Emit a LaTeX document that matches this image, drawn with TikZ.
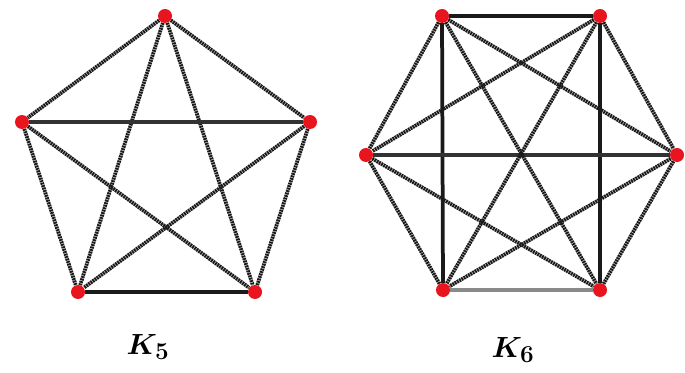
\documentclass[tikz,border=0pt]{standalone}
\usepackage{bm}
\usetikzlibrary{backgrounds}
\definecolor{dotred}{HTML}{E8141E}
\definecolor{ink}{HTML}{1A1A1A}
\definecolor{softink}{HTML}{333333}
\definecolor{paleink}{HTML}{8A8A8A}

\begin{document}
\begin{tikzpicture}[
  x=0.03cm,
  y=0.03cm,
  vertex/.style={
    circle,
    fill=dotred,
    inner sep=0pt,
    minimum size=0.42cm
  },
  edge/.style={
    draw=ink,
    line width=3.2pt,
    dash pattern=on 1.6pt off 0.6pt
  },
  solidedge/.style={draw=ink, line width=3.2pt},
  softedge/.style={draw=softink, line width=3.2pt},
  paleedge/.style={draw=paleink, line width=3.2pt},
  caption/.style={font=\fontsize{30}{34}\selectfont}
]
\useasboundingbox (0,0) rectangle (685,-373);

% K5 vertices
\node[vertex] (ftop) at (165,-16) {};
\node[vertex] (fleft) at (22,-122) {};
\node[vertex] (fright) at (310,-122) {};
\node[vertex] (fbl) at (78,-292) {};
\node[vertex] (fbr) at (255,-292) {};
\node[caption] (fname) at (148,-347) {$\bm{K_5}$};

% K6 vertices
\node[vertex] (stl) at (442,-16) {};
\node[vertex] (str) at (600,-16) {};
\node[vertex] (sleft) at (366,-155) {};
\node[vertex] (sright) at (677,-155) {};
\node[vertex] (sbl) at (443,-290) {};
\node[vertex] (sbr) at (600,-290) {};
\node[caption] (sname) at (513,-350) {$\bm{K_6}$};

\begin{scope}[on background layer]
  % K5 edges
  \draw[edge] (ftop) -- (fleft);
  \draw[edge] (ftop) -- (fright);
  \draw[edge] (ftop) -- (fbl);
  \draw[edge] (ftop) -- (fbr);
  \draw[softedge] (fleft) -- (fright);
  \draw[edge] (fleft) -- (fbl);
  \draw[edge] (fleft) -- (fbr);
  \draw[edge] (fright) -- (fbl);
  \draw[edge] (fright) -- (fbr);
  \draw[solidedge] (fbl) -- (fbr);

  % K6 edges
  \draw[solidedge] (stl) -- (str);
  \draw[solidedge] (stl) -- (sbl);
  \draw[solidedge] (str) -- (sbr);
  \draw[paleedge] (sbl) -- (sbr);
  \draw[softedge] (sleft) -- (sright);
  \draw[edge] (stl) -- (sleft);
  \draw[edge] (stl) -- (sright);
  \draw[edge] (stl) -- (sbr);
  \draw[edge] (str) -- (sleft);
  \draw[edge] (str) -- (sright);
  \draw[edge] (str) -- (sbl);
  \draw[edge] (sleft) -- (sbl);
  \draw[edge] (sleft) -- (sbr);
  \draw[edge] (sright) -- (sbl);
  \draw[edge] (sright) -- (sbr);
\end{scope}

\end{tikzpicture}
\end{document}
